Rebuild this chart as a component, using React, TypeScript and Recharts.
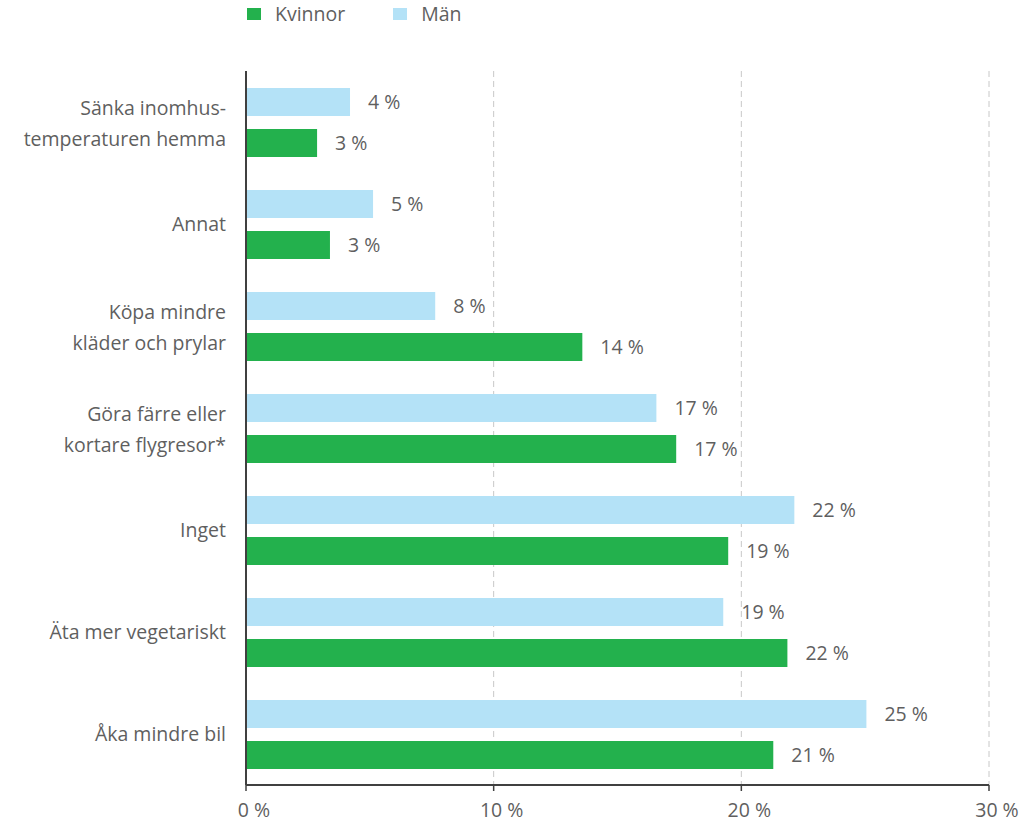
import React from "react";
import { BarChart, Bar, XAxis, YAxis, CartesianGrid, LabelList } from "recharts";

const categories = [
  "Sänka inomhus-\ntemperaturen hemma",
  "Annat",
  "Köpa mindre\nkläder och prylar",
  "Göra färre eller\nkortare flygresor*",
  "Inget",
  "Äta mer vegetariskt",
  "Åka mindre bil",
];
const man = [4.2, 5.13, 7.64, 16.57, 22.14, 19.27, 25.05];
const kvinnor = [2.87, 3.39, 13.58, 17.37, 19.47, 21.86, 21.29];
const xTicks = [0, 10, 20, 30];

const GREEN = "#23b14d";
const BLUE = "#b4e2f7";
const TEXT = "#5f5f5f";
const FONT = "'Open Sans', sans-serif";
const FS = 19.5;

const data = categories.map((name, i) => ({ name, man: man[i], kvinnor: kvinnor[i] }));

const fmtPct = (v: any) => `${Math.round(Number(v))} %`;

function CatTick({ x, y, payload }: any) {
  const lines = String(payload.value).split("\n");
  const lh = 31;
  const y0 = y - ((lines.length - 1) * lh) / 2 + (lines.length > 1 ? 2 : 0);
  return (
    <text x={x} y={y0} textAnchor="end" fill={TEXT} fontSize={FS} fontFamily={FONT}>
      {lines.map((l, i) => (
        <tspan key={i} x={x} y={y0 + i * lh} dy="0.35em">{l}</tspan>
      ))}
    </text>
  );
}

export default function App() {
  return (
    <div style={{ position: "absolute", left: 0, top: 0, width: 1030, height: 827, background: "#fff", fontFamily: FONT }}>
      <div style={{ position: "absolute", left: 247, top: 0, display: "flex", alignItems: "center", fontSize: FS, color: TEXT }}>
        <span style={{ width: 14, height: 12, background: GREEN, display: "inline-block" }} />
        <span style={{ marginLeft: 14 }}>Kvinnor</span>
        <span style={{ width: 14, height: 12, background: BLUE, display: "inline-block", marginLeft: 48 }} />
        <span style={{ marginLeft: 14 }}>Män</span>
      </div>
      <BarChart
        width={1030}
        height={827}
        data={data}
        layout="vertical"
        margin={{ top: 71, right: 41, bottom: 8, left: 0 }}
        barSize={28}
        barGap={13}
      >
        <CartesianGrid horizontal={false} stroke="#c8c8c8" strokeDasharray="6 4" />
        <XAxis
          type="number"
          domain={[0, 30]}
          ticks={xTicks}
          tickFormatter={fmtPct}
          height={34}
          axisLine={{ stroke: "#404040", strokeWidth: 2 }}
          tickLine={{ stroke: "#404040", strokeWidth: 1.5 }}
          tickSize={6}
          tickMargin={12}
          tick={{ fill: TEXT, fontSize: FS, fontFamily: FONT, dx: 8 }}
        />
        <YAxis
          type="category"
          dataKey="name"
          width={246}
          axisLine={{ stroke: "#404040", strokeWidth: 2 }}
          tickLine={false}
          tick={<CatTick />}
          tickMargin={14}
          interval={0}
        />
        <Bar dataKey="man" fill={BLUE} isAnimationActive={false}>
          <LabelList dataKey="man" position="right" offset={18} formatter={fmtPct} fill={TEXT} fontSize={FS} fontFamily={FONT} />
        </Bar>
        <Bar dataKey="kvinnor" fill={GREEN} isAnimationActive={false}>
          <LabelList dataKey="kvinnor" position="right" offset={18} formatter={fmtPct} fill={TEXT} fontSize={FS} fontFamily={FONT} />
        </Bar>
      </BarChart>
    </div>
  );
}
